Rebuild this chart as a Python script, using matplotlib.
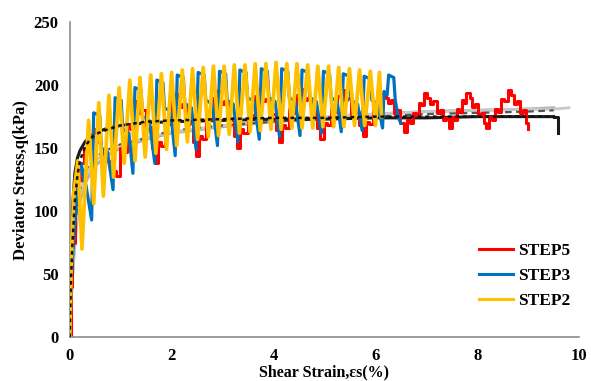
import matplotlib
matplotlib.use("Agg")
import matplotlib.pyplot as plt
from matplotlib.lines import Line2D

# ---- cyclic test traces (shear strain %, deviator stress kPa) ----
step2_strain = [0, 0.03, 0.08, 0.16, 0.24, 0.37, 0.47, 0.57, 0.66, 0.77, 0.86, 0.97, 1.07,
                1.18, 1.28, 1.38, 1.48, 1.59, 1.69, 1.80, 1.90, 2.00, 2.10, 2.21, 2.31,
                2.41, 2.51, 2.62, 2.72, 2.82, 2.92, 3.03, 3.13, 3.23, 3.33, 3.44, 3.54,
                3.64, 3.74, 3.85, 3.95, 4.05, 4.15, 4.26, 4.36, 4.46, 4.56, 4.67, 4.77,
                4.87, 4.97, 5.08, 5.18, 5.28, 5.38, 5.49, 5.59, 5.69, 5.79, 5.90, 6.00,
                6.08, 6.12]
step2_q = [0, 60, 115, 140, 70, 172, 106, 186, 112, 192, 127, 198, 138,
           204, 140, 206, 143, 208, 146, 209, 149, 210, 152, 212, 155,
           213, 157, 214, 159, 215, 160, 215, 161, 216, 162, 216, 163,
           217, 164, 217, 165, 218, 165, 217, 166, 217, 166, 216, 166,
           215, 167, 215, 167, 214, 167, 213, 168, 212, 168, 211, 168,
           210, 175]

step3_strain = [0, 0.03, 0.08, 0.14, 0.22, 0.32,
                0.43, 0.47, 0.59, 0.62, 0.74,
                0.85, 0.89, 1.01, 1.04, 1.16,
                1.24, 1.28, 1.40, 1.43, 1.56,
                1.67, 1.71, 1.83, 1.86, 1.98,
                2.07, 2.11, 2.23, 2.26, 2.39,
                2.48, 2.52, 2.64, 2.67, 2.80,
                2.90, 2.94, 3.06, 3.09, 3.21,
                3.30, 3.34, 3.46, 3.49, 3.62,
                3.72, 3.76, 3.88, 3.91, 4.03,
                4.12, 4.16, 4.28, 4.31, 4.43,
                4.52, 4.56, 4.68, 4.71, 4.84,
                4.94, 4.98, 5.10, 5.13, 5.25,
                5.33, 5.37, 5.49, 5.52, 5.65,
                5.74, 5.78, 5.90, 5.93, 6.05,
                6.14, 6.17, 6.23, 6.26, 6.36, 6.39, 6.45, 6.50]
step3_q = [0, 45, 82, 112, 138, 120,
           93, 178, 176, 150, 147,
           117, 190, 188, 165, 162,
           130, 198, 196, 175, 172,
           138, 204, 202, 182, 179,
           144, 208, 206, 185, 182,
           149, 210, 208, 188, 185,
           152, 211, 209, 188, 185,
           155, 212, 210, 190, 187,
           157, 213, 211, 190, 187,
           159, 213, 211, 190, 187,
           160, 212, 210, 190, 187,
           162, 211, 209, 190, 187,
           163, 209, 207, 188, 185,
           164, 207, 205, 188, 185,
           166, 195, 192, 208, 206, 188, 174, 170]

step5_strain = [0, 0.02, 0.05, 0.10, 0.15, 0.20, 0.28, 0.36, 0.45, 0.55, 0.62, 0.70, 0.80, 0.90,
                0.98, 1.04, 1.12, 1.18, 1.24, 1.28, 1.36, 1.42, 1.50, 1.56, 1.62, 1.67,
                1.74, 1.80, 1.87, 1.93, 2.00, 2.07, 2.15, 2.21, 2.29, 2.35, 2.41, 2.47,
                2.54, 2.60, 2.68, 2.74, 2.82, 2.89, 2.97, 3.03, 3.10, 3.16, 3.22, 3.28,
                3.35, 3.41, 3.49, 3.55, 3.63, 3.70, 3.78, 3.84, 3.92, 3.98, 4.04, 4.10,
                4.17, 4.23, 4.31, 4.37, 4.45, 4.53, 4.60, 4.66, 4.74, 4.80, 4.86, 4.92,
                4.99, 5.05, 5.12, 5.18, 5.25, 5.31, 5.39, 5.45, 5.53, 5.59, 5.67, 5.75,
                5.82, 5.88, 5.95, 6.01, 6.08, 6.14, 6.20, 6.25, 6.30, 6.36, 6.42, 6.48, 6.56,
                6.62, 6.68, 6.74, 6.80, 6.86, 6.90, 6.95, 7.02, 7.08, 7.14, 7.20, 7.26, 7.32,
                7.38, 7.44, 7.50, 7.55, 7.60, 7.65, 7.70, 7.74, 7.78, 7.85, 7.90, 7.96, 8.02,
                8.08, 8.13, 8.17, 8.23, 8.28, 8.34, 8.40, 8.46, 8.52, 8.60, 8.66, 8.72, 8.78,
                8.84, 8.90, 8.96, 9.00]
step5_q = [0, 40, 75, 105, 125, 138, 150, 158, 165, 155, 145, 140, 132, 128,
           150, 147, 168, 165, 182, 187, 178, 180, 165, 167, 150, 138,
           155, 152, 172, 169, 187, 193, 183, 185, 168, 170, 155, 144,
           160, 157, 176, 173, 190, 195, 185, 187, 172, 174, 160, 150,
           165, 162, 179, 176, 191, 196, 187, 189, 175, 177, 164, 155,
           168, 166, 181, 178, 192, 197, 188, 190, 177, 179, 166, 157,
           170, 168, 182, 179, 191, 196, 188, 190, 177, 179, 168, 160,
           171, 169, 181, 178, 190, 194, 190, 186, 188, 178, 180, 170, 163,
           172, 170, 178, 176, 186, 184, 194, 190, 185, 187, 178, 180, 172,
           174, 166, 175, 172, 181, 179, 188, 186, 194, 190, 183, 185, 176,
           178, 170, 166, 175, 172, 181, 179, 189, 187, 196, 192, 185, 187,
           178, 180, 170, 165]

# ---- hyperbolic reference curves ----
ref_strain = [0, 0.02, 0.05, 0.10, 0.15, 0.20, 0.30, 0.40, 0.50, 0.75, 1.0, 1.5, 2.0,
              3.0, 4.0, 5.0, 6.0, 7.0, 8.0, 9.0, 9.5]
ref_solid_q = [0, 55, 100, 130, 142, 148, 155, 159, 162, 166, 168, 170, 171,
               172, 173, 173, 174, 174, 175, 175, 175]
ref_dotted_q = [0, 40, 72, 108, 128, 140, 151, 157, 161, 165, 168, 171, 172,
                173, 174, 174, 175, 175, 175, 175, 175]
ref_dashed_q = [0, 30, 55, 85, 105, 117, 132, 138, 143, 149, 153, 158, 164,
                168, 171, 173, 175, 177, 178, 179, 180]
ref_gray1_q = [0, 25, 45, 75, 95, 108, 122, 130, 136, 145, 150, 157, 162,
               167, 171, 174, 177, 179, 180, 181, 182]
ref_gray2_q = [0, 28, 50, 80, 100, 113, 128, 135, 140, 148, 153, 158, 163,
               168, 172, 175, 177, 179, 180, 181, 181]
solid_end_strain = [9.5, 9.58, 9.58]
solid_end_q = [175, 175, 162]

x_ticks = [0, 2, 4, 6, 8, 10]
y_ticks = [0, 50, 100, 150, 200, 250]

plt.rcParams['font.family'] = ['Liberation Serif', 'DejaVu Serif']
plt.rcParams['font.weight'] = 'bold'

fig = plt.figure(figsize=(5.91, 3.81), dpi=100)
ax = fig.add_axes([0.118, 0.115, 0.862, 0.827])

# reference curves behind the cyclic traces
ax.plot(ref_strain, ref_gray1_q, color='#b0b0b0', lw=2.2, zorder=1)
ax.plot(ref_strain + [9.8], ref_gray2_q + [182], color='#c8c8c8', lw=2.0, zorder=1)
ax.plot(ref_strain, ref_dashed_q, color='#555555', lw=1.6, ls=(0, (3, 2)), zorder=1.5)
ax.plot(ref_strain, ref_solid_q, color='#1a1a1a', lw=2.2, zorder=1.6)
ax.plot(solid_end_strain, solid_end_q, color='#1a1a1a', lw=2.2, zorder=1.6)

red = '#ff0000'
blue = '#0070c0'
yellow = '#ffc000'
ax.plot(step5_strain, step5_q, color=red, lw=2.2, drawstyle='steps-post', zorder=2)
ax.plot(step3_strain, step3_q, color=blue, lw=2.3, solid_joinstyle='round', zorder=3)
ax.plot(step2_strain, step2_q, color=yellow, lw=2.7, solid_joinstyle='round', zorder=4)

ax.plot(ref_strain, ref_dotted_q, color='#111111', lw=1.8, ls=(0, (1.5, 1.5)), zorder=5)

ax.set_xlim(0, 10)
ax.set_ylim(0, 250)
ax.set_xticks(x_ticks)
ax.set_yticks(y_ticks)
ax.tick_params(length=0, labelsize=12, pad=8)
for lab in ax.get_xticklabels() + ax.get_yticklabels():
    lab.set_fontweight('bold')
for side in ('top', 'right'):
    ax.spines[side].set_visible(False)
for side in ('left', 'bottom'):
    ax.spines[side].set_color('#8c8c8c')
    ax.spines[side].set_linewidth(1.2)

ax.set_xlabel('Shear Strain,εs(%)', fontsize=11.5, fontweight='bold', labelpad=0)
ax.set_ylabel('Deviator Stress,q(kPa)', fontsize=12, fontweight='bold', labelpad=3)

handles = [Line2D([0], [0], color=red, lw=2.2),
           Line2D([0], [0], color=blue, lw=2.2),
           Line2D([0], [0], color=yellow, lw=2.2)]
ax.legend(handles, ['STEP5', 'STEP3', 'STEP2'], loc='lower left',
          bbox_to_anchor=(0.772, 0.04), frameon=False, handlelength=1.95,
          handletextpad=0.3, labelspacing=0.5,
          prop={'family': 'Liberation Serif', 'weight': 'bold', 'size': 12.5})

fig.savefig('out.png', dpi=100)
